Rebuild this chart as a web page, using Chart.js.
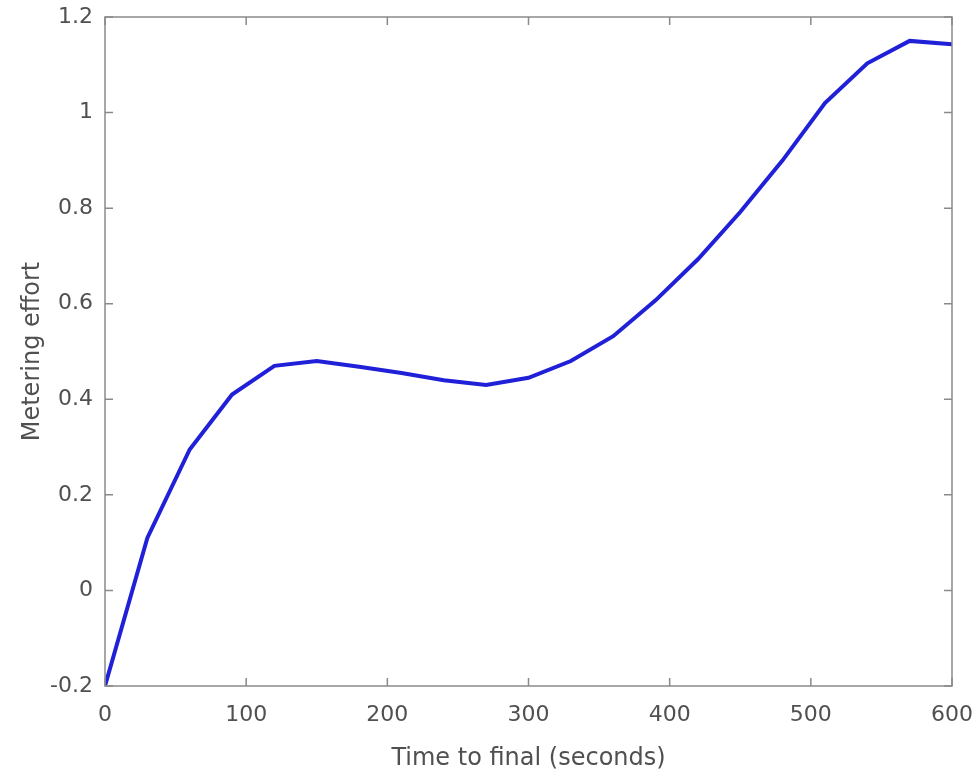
<!DOCTYPE html>
<html>
<head>
<meta charset="utf-8">
<script src="https://cdn.jsdelivr.net/npm/chart.js@4/dist/chart.umd.min.js"></script>
<style>
  html, body { margin: 0; padding: 0; background: #fff; }
  #wrap { width: 978px; height: 775px; }
</style>
</head>
<body>
<div id="wrap"><canvas id="chart" width="978" height="775"></canvas></div>
<script>
  'use strict';

  // time to final (s), sampled every 30 s
  const times = [0, 30, 60, 90, 120, 150, 180, 210, 240, 270, 300, 330, 360, 390, 420, 450, 480, 510, 540, 570, 600];
  const effort = [-0.2, 0.11, 0.295, 0.41, 0.47, 0.48, 0.468, 0.455, 0.44, 0.43, 0.445, 0.48, 0.532, 0.607, 0.693, 0.792, 0.9, 1.02, 1.103, 1.15, 1.143];

  const xTicks = [0, 100, 200, 300, 400, 500, 600];
  const yTicks = [-0.2, 0, 0.2, 0.4, 0.6, 0.8, 1, 1.2];
  const yTickLabels = ['-0.2', '0', '0.2', '0.4', '0.6', '0.8', '1', '1.2'];

  const AXIS = '#8a8a8a';
  const TEXT = '#505050';
  const FONT = 'DejaVu Sans, Liberation Sans, sans-serif';

  // box around plot + inward ticks on all four sides (matlab style)
  const boxTicks = {
    id: 'boxTicks',
    afterDraw(chart) {
      const { ctx, chartArea: a, scales } = chart;
      const len = 8;
      ctx.save();
      ctx.strokeStyle = AXIS;
      ctx.lineWidth = 1.5;
      ctx.strokeRect(a.left, a.top, a.right - a.left, a.bottom - a.top);
      ctx.beginPath();
      xTicks.forEach(v => {
        const px = scales.x.getPixelForValue(v);
        ctx.moveTo(px, a.bottom); ctx.lineTo(px, a.bottom - len);
        ctx.moveTo(px, a.top); ctx.lineTo(px, a.top + len);
      });
      yTicks.forEach(v => {
        const py = scales.y.getPixelForValue(v);
        ctx.moveTo(a.left, py); ctx.lineTo(a.left + len, py);
        ctx.moveTo(a.right, py); ctx.lineTo(a.right - len, py);
      });
      ctx.stroke();
      ctx.restore();
    },
  };

  new Chart(document.getElementById('chart'), {
    type: 'line',
    data: {
      datasets: [{
        data: times.map((t, i) => ({ x: t, y: effort[i] })),
        borderColor: '#2020d8',
        borderWidth: 4,
        pointRadius: 0,
        tension: 0,
        fill: false,
      }],
    },
    options: {
      responsive: false,
      animation: false,
      layout: { padding: { left: 0, right: 26, top: 17, bottom: 0 } },
      plugins: { legend: { display: false }, tooltip: { enabled: false } },
      scales: {
        x: {
          type: 'linear',
          min: 0,
          max: 600,
          afterBuildTicks: s => { s.ticks = xTicks.map(v => ({ value: v })); },
          afterFit: s => { s.height = 89; s.paddingLeft = 0; s.paddingRight = 0; },
          grid: { display: false, drawTicks: false },
          border: { display: false },
          ticks: { color: TEXT, font: { family: FONT, size: 22 }, padding: 16, maxRotation: 0 },
          title: {
            display: true,
            text: 'Time to final (seconds)',
            color: TEXT,
            font: { family: FONT, size: 24 },
            padding: { top: 0, bottom: 2 },
          },
        },
        y: {
          min: -0.2,
          max: 1.2,
          afterBuildTicks: s => { s.ticks = yTicks.map(v => ({ value: v })); },
          afterFit: s => { s.width = 105; s.paddingTop = 0; s.paddingBottom = 0; },
          grid: { display: false, drawTicks: false },
          border: { display: false },
          ticks: {
            color: TEXT,
            font: { family: FONT, size: 22 },
            padding: 12,
            callback: (v) => {
              const i = yTicks.findIndex(t => Math.abs(t - v) < 1e-9);
              return i >= 0 ? yTickLabels[i] : '';
            },
          },
          title: {
            display: true,
            text: 'Metering effort',
            color: TEXT,
            font: { family: FONT, size: 24 },
            padding: { top: 18, bottom: 0 },
          },
        },
      },
    },
    plugins: [boxTicks],
  });
</script>
</body>
</html>
